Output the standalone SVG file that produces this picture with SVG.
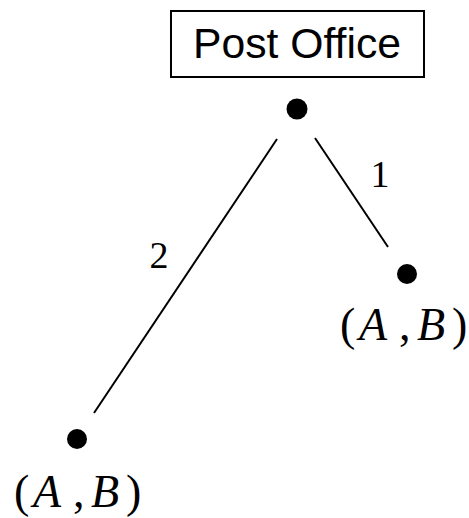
<svg xmlns="http://www.w3.org/2000/svg" width="469" height="518" viewBox="0 0 469 518">
<style>
.edge{stroke:#000;stroke-width:2;fill:none}
.dot{fill:#000}
.lbl{font-family:"Liberation Serif",serif;font-size:38px;fill:#000}
.pair{font-family:"Liberation Serif",serif;font-size:46px;fill:#000}
.it{font-style:italic}
.box{fill:#fff;stroke:#000;stroke-width:2}
.sans{font-family:"Liberation Sans",sans-serif;font-size:42px;fill:#000}
</style>
<rect width="469" height="518" fill="#fff"/>
<g id="post-office">
<rect class="box" x="171" y="11" width="253" height="66"/>
<text class="sans" x="297" y="58" text-anchor="middle" textLength="208" lengthAdjust="spacingAndGlyphs">Post Office</text>
</g>
<g id="root"><circle class="dot" cx="297" cy="109" r="10.5"/></g>
<g id="right-leaf">
<circle class="dot" cx="407" cy="274" r="10"/>
<text class="pair" y="340"><tspan x="340">(</tspan><tspan class="it" x="359">A</tspan><tspan x="399">,</tspan><tspan class="it" x="417">B</tspan><tspan x="452">)</tspan></text>
</g>
<g id="left-leaf">
<circle class="dot" cx="77" cy="439" r="10"/>
<text class="pair" y="507"><tspan x="14">(</tspan><tspan class="it" x="33">A</tspan><tspan x="73">,</tspan><tspan class="it" x="91">B</tspan><tspan x="126">)</tspan></text>
</g>
<g id="connectors">
<line class="edge" x1="315" y1="138" x2="388" y2="247"/>
<line class="edge" x1="277" y1="139" x2="94" y2="413"/>
<text class="lbl" x="380" y="187" text-anchor="middle">1</text>
<text class="lbl" x="159" y="268" text-anchor="middle">2</text>
</g>
</svg>
